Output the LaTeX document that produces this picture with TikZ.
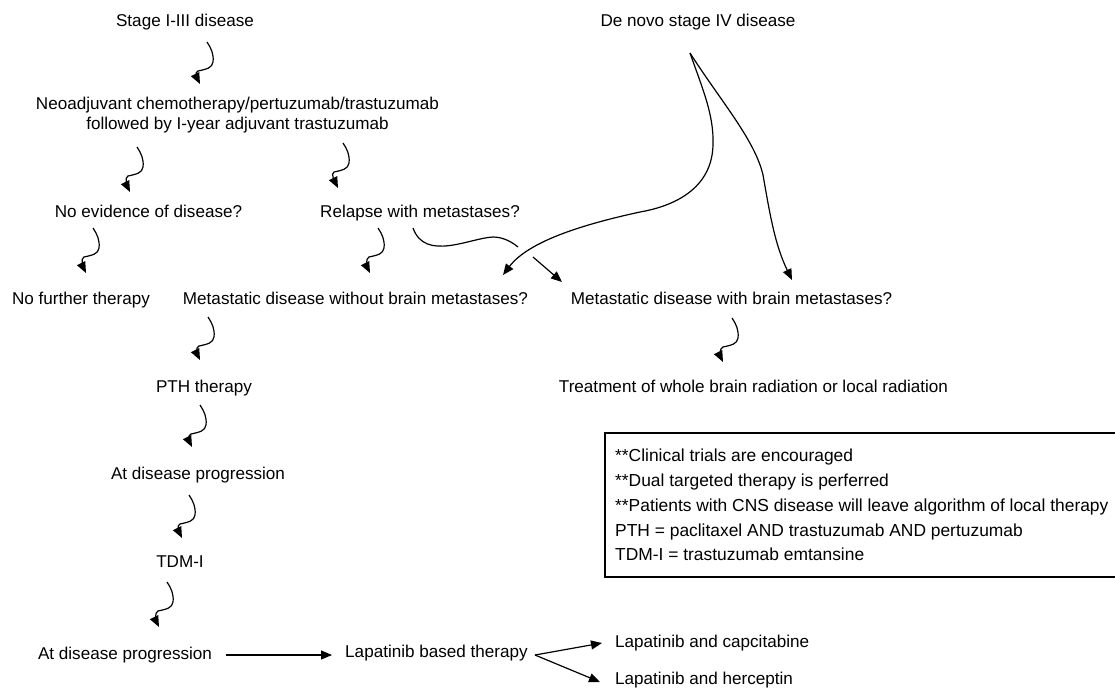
\documentclass[tikz,border=0pt]{standalone}
\usepackage{fontspec}
\setmainfont{Liberation Sans}
\usetikzlibrary{arrows.meta,calc}
\tikzset{
  txt/.style={inner sep=0pt, font=\fontsize{17.1pt}{20pt}\selectfont, text height=12.5pt, text depth=3.5pt},
  note/.style={txt, anchor=west, font=\fontsize{17.4pt}{20pt}\selectfont},
  arr/.style={line width=1.2pt, -{Triangle[length=11pt,width=9pt]}},
  ln/.style={line width=1.2pt},
}
\newcommand\wavyarr[2]{\draw[arr] #1 .. controls +(4,6) and +(1,-8) .. ++(6,20) .. controls +(-1,6) and +(9,-2) .. ++(-15,9) .. controls +(-4,1) and +(-2,-4) .. #2;}
\begin{document}
\begin{tikzpicture}[x=1pt,y=-1pt]
\useasboundingbox (0,0) rectangle (1115,689);
% nodes
\node[txt] (stage) at (185,22) {Stage I-III disease};
\node[txt] (denovo) at (698,22) {De novo stage IV disease};
\node[txt, align=center, text height=, text depth=] (neo) at (237.5,115) {Neoadjuvant chemotherapy/pertuzumab/trastuzumab\\followed by I-year adjuvant trastuzumab};
\node[txt] (noev) at (148.5,213) {No evidence of disease?};
\node[txt] (relapse) at (420,213) {Relapse with metastases?};
\node[txt] (nofurther) at (81,300) {No further therapy};
\node[txt] (metawo) at (355.5,300) {Metastatic disease without brain metastases?};
\node[txt] (metaw) at (731.5,300) {Metastatic disease with brain metastases?};
\node[txt] (pth) at (204,388) {PTH therapy};
\node[txt] (treat) at (753.5,388) {Treatment of whole brain radiation or local radiation};
\node[txt] (atd1) at (198,475) {At disease progression};
\node[txt] (tdm) at (180,563) {TDM-I};
\node[txt] (atd2) at (125,655) {At disease progression};
\node[txt] (lap) at (436.5,653) {Lapatinib based therapy};
\node[txt, anchor=west] (cap) at (615,643) {Lapatinib and capcitabine};
\node[txt, anchor=west] (her) at (615,680) {Lapatinib and herceptin};
% notes box
\draw[line width=1.2pt] (605,433) rectangle (1130,577);
\node[note] (n1) at (615,457) {**Clinical trials are encouraged};
\node[note] (n2) at (615,482) {**Dual targeted therapy is perferred};
\node[note] (n3) at (615,507) {**Patients with CNS disease will leave algorithm of local therapy};
\node[note] (n4) at (615,532) {PTH = paclitaxel AND trastuzumab AND pertuzumab};
\node[note] (n5) at (615,556) {TDM-I = trastuzumab emtansine};
% wavy arrows
\wavyarr{($(stage.center)+(22,20)$)}{($(neo.center)+(-37.5,-31)$)}
\wavyarr{($(neo.center)+(-100.5,32)$)}{($(noev.center)+(-18.5,-21)$)}
\wavyarr{($(neo.center)+(105.5,28)$)}{($(relapse.center)+(-82,-25)$)}
\wavyarr{($(noev.center)+(-55.5,15)$)}{($(nofurther.center)+(5,-27)$)}
\wavyarr{($(relapse.center)+(-42,15)$)}{($(metawo.center)+(14.5,-27)$)}
\wavyarr{($(metawo.center)+(-147.5,17)$)}{($(pth.center)+(-4,-28)$)}
\wavyarr{($(pth.center)+(-4,17)$)}{($(atd1.center)+(-6,-28)$)}
\wavyarr{($(atd1.center)+(-9,20)$)}{($(tdm.center)+(2,-25)$)}
\wavyarr{($(tdm.center)+(-13,19)$)}{($(atd2.center)+(34,-28)$)}
\wavyarr{($(metaw.center)+(0.5,18)$)}{($(treat.center)+(-30.5,-26)$)}
% de novo branches
\coordinate (dn) at ($(denovo.center)+(-8,31)$);
\draw[arr] (dn) .. controls (703,90) and (714,115) .. (713,145)
  .. controls (712,185) and (680,205) .. (640,212)
  .. controls (580,225) and (528,242) .. ($(metawo.center)+(147.5,-25)$);
\draw[arr] (dn) .. controls (720,100) and (755,140) .. (763,175)
  .. controls (770,215) and (775,245) .. ($(metaw.center)+(60.5,-20)$);
% relapse to brain metastases (with hop)
\coordinate (hop) at (533,257);
\draw[ln] ($(relapse.center)+(-7,15)$) .. controls (425,262) and (470,238) .. (493,237)
  .. controls (503,237) and (512,242) .. (518,247);
\draw[arr] (hop) -- ($(metaw.center)+(-169.5,-18)$);
% bottom row
\draw[arr, shorten <=14pt, shorten >=13pt] (atd2.east) -- (atd2.east -| lap.west);
\coordinate (fork) at ($(lap.east)+(7,2)$);
\draw[arr] (fork) -- ($(cap.west)+(-13,0)$);
\draw[arr] (fork) -- ($(her.west)+(-15,2)$);
\end{tikzpicture}
\end{document}
